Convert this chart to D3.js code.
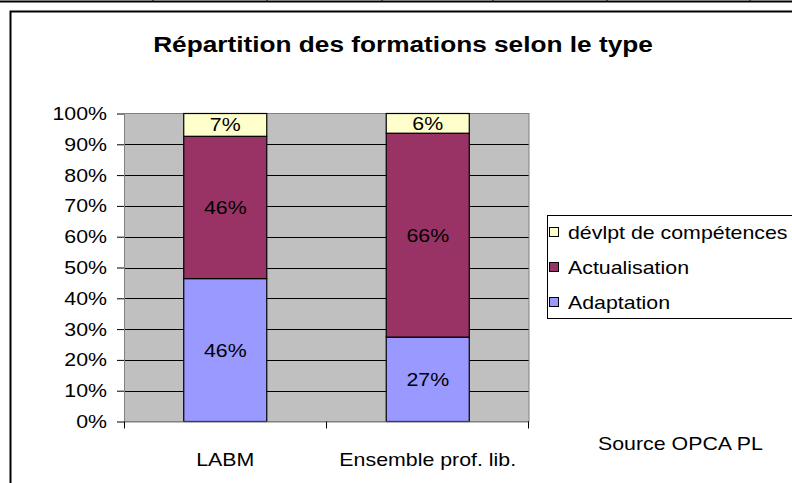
<!DOCTYPE html>
<html lang="fr">

<head>
    <meta charset="UTF-8">
    <title>Répartition des formations</title>
    <script src="https://d3js.org/d3.v7.min.js"></script>
    <style>
        body,
        html {
            margin: 0px;
            background: #fff;
            overflow: hidden;
        }

        text {
            font-family: 'Liberation Sans', Arial, sans-serif;
            fill: #000;
        }
    </style>
</head>

<body>
    <div id="chart"></div>

    <script>
        // data (percent of trainings)
        const categories = ["LABM", "Ensemble prof. lib."]
        const seriesNames = ["Adaptation", "Actualisation", "dévlpt de compétences"]
        const adaptation = [46.4, 27.4]
        const actualisation = [46.2, 66.2]
        const developpement = [7.4, 6.4]
        const yTicks = [0, 10, 20, 30, 40, 50, 60, 70, 80, 90, 100]
        const colors = ["#9999ff", "#993366", "#ffffcc"]
        const sheetTicks = [153, 267, 382, 493, 607, 750]

        const width = 792, height = 483
        const SX = 1.22 // the picture is stretched horizontally

        const svg = d3.select("#chart")
            .append("svg")
            .attr("width", width)
            .attr("height", height)

        // helper: text with horizontal stretch
        function label(g, x, y, str, size, anchor, weight) {
            return g.append("text")
                .attr("transform", `translate(${x},${y}) scale(${SX},1)`)
                .attr("text-anchor", anchor || "middle")
                .style("font-size", size + "px")
                .style("font-weight", weight || "normal")
                .text(str)
        }

        // spreadsheet cell line at the very top
        svg.append("line")
            .attr("x1", 0).attr("x2", width).attr("y1", 1.5).attr("y2", 1.5)
            .style("stroke", "#000").style("stroke-width", 2)
        svg.selectAll(".sheet-tick")
            .data(sheetTicks)
            .enter()
            .append("line")
            .attr("x1", d => d).attr("x2", d => d)
            .attr("y1", 0).attr("y2", 2)
            .style("stroke", "#000")

        // chart frame (cut off right and bottom)
        svg.append("path")
            .attr("d", `M10.5,${height} V11.5 H${width}`)
            .style("fill", "none")
            .style("stroke", "#000")
            .style("stroke-width", 2)

        label(svg, 403, 52, "Répartition des formations selon le type", 21.5, "middle", "bold")

        const plot = { left: 124, right: 529, top: 113.5, bottom: 421.5 }

        const x = d3.scaleBand()
            .domain(categories)
            .range([plot.left, plot.right])
            .paddingInner(0.59)
            .paddingOuter(0.295)

        const y = d3.scaleLinear()
            .domain([0, 100])
            .range([plot.bottom, plot.top])

        // plot background
        svg.append("rect")
            .attr("x", plot.left).attr("y", plot.top)
            .attr("width", plot.right - plot.left)
            .attr("height", plot.bottom - plot.top)
            .style("fill", "#c0c0c0")

        // gridlines
        svg.append("g")
            .selectAll("line")
            .data(yTicks.filter(d => d > 0 && d < 100))
            .enter()
            .append("line")
            .attr("x1", plot.left).attr("x2", plot.right)
            .attr("y1", d => Math.round(y(d)) + 0.5).attr("y2", d => Math.round(y(d)) + 0.5)
            .style("stroke", "#000")
            .style("stroke-width", 1)

        // plot frame
        svg.append("rect")
            .attr("x", plot.left + 0.5).attr("y", plot.top)
            .attr("width", plot.right - plot.left - 0.5)
            .attr("height", plot.bottom - plot.top)
            .style("fill", "none")
            .style("stroke", "#808080")
            .style("stroke-width", 1)

        // stacked bars
        const table = categories.map((c, i) => ({
            cat: c,
            "Adaptation": adaptation[i],
            "Actualisation": actualisation[i],
            "dévlpt de compétences": developpement[i]
        }))
        const stacked = d3.stack().keys(seriesNames)(table)

        const layers = svg.append("g")
            .selectAll("g")
            .data(stacked)
            .enter()
            .append("g")
            .style("fill", (d, i) => colors[i])

        layers.selectAll("rect")
            .data(d => d)
            .enter()
            .append("rect")
            .attr("x", d => x(d.data.cat))
            .attr("y", d => y(d[1]))
            .attr("width", x.bandwidth())
            .attr("height", d => y(d[0]) - y(d[1]))
            .style("stroke", "#000")
            .style("stroke-width", 1.2)

        // value labels
        const valueLabels = svg.append("g")
        stacked.forEach(layer => {
            layer.forEach(d => {
                const cx = x(d.data.cat) + x.bandwidth() / 2
                const cy = (y(d[0]) + y(d[1])) / 2 + 6.5
                label(valueLabels, cx, cy, Math.round(d[1] - d[0]) + "%", 17.5)
            })
        })

        // y axis
        const yAxis = svg.append("g")
            .attr("transform", `translate(${plot.left},0)`)
            .call(d3.axisLeft(y).tickValues(yTicks).tickSize(7).tickFormat(""))
        yAxis.select(".domain").remove()
        yAxis.selectAll("line").style("stroke", "#000")
        yTicks.forEach(t => label(svg, 107, y(t) + 6.5, t + "%", 17.5, "end"))

        // x axis
        const xAxis = svg.append("g")
            .attr("transform", `translate(0,${plot.bottom})`)
        xAxis.append("line")
            .attr("x1", plot.left).attr("x2", plot.right)
            .attr("y1", 0.5).attr("y2", 0.5)
            .style("stroke", "#808080")
        xAxis.selectAll(".xtick")
            .data([plot.left + 0.5, (plot.left + plot.right) / 2, plot.right - 0.5])
            .enter()
            .append("line")
            .attr("x1", d => d).attr("x2", d => d)
            .attr("y1", 0).attr("y2", 7)
            .style("stroke", "#000")
        categories.forEach(c => label(svg, x(c) + x.bandwidth() / 2, 466, c, 17.5))

        // legend
        const legend = svg.append("g")
        legend.append("rect")
            .attr("x", 547.5).attr("y", 215.5)
            .attr("width", 300).attr("height", 103)
            .style("fill", "#fff")
            .style("stroke", "#000")
        seriesNames.slice().reverse().forEach((s, i) => {
            const cy = 232 + i * 35
            legend.append("rect")
                .attr("x", 549.5).attr("y", cy - 4.5)
                .attr("width", 9).attr("height", 9)
                .style("fill", colors[seriesNames.indexOf(s)])
                .style("stroke", "#000")
            label(legend, 568, cy + 6.5, s, 17.5, "start")
        })

        label(svg, 598, 450, "Source OPCA PL", 17.5, "start")
    </script>
</body>

</html>
